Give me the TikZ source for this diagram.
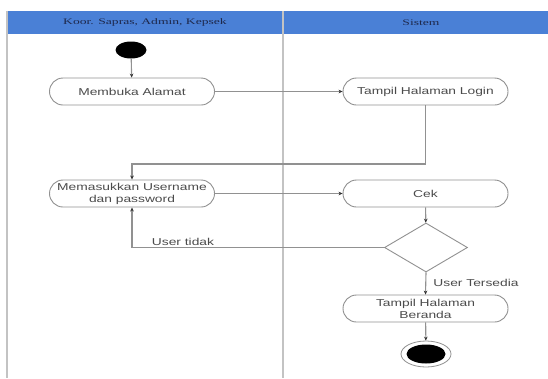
\documentclass[tikz,border=0pt]{standalone}
\usepackage{fontspec}
\setmainfont{Liberation Sans}
\newfontfamily\headfont{Liberation Serif}
\usetikzlibrary{shapes.geometric,arrows.meta}
\definecolor{laneblue}{RGB}{74,128,214}
\definecolor{lanegray}{RGB}{195,195,195}
\definecolor{edgegray}{RGB}{145,145,145}
\definecolor{txtgray}{RGB}{75,75,75}
\definecolor{headtxt}{RGB}{30,40,75}
\newcommand{\wtext}[1]{\scalebox{1.38}[1]{#1}}
\newcommand{\htext}[1]{\scalebox{1.6}[1]{#1}}
\tikzset{
  activity/.style={draw=edgegray, line width=0.9pt, fill=white, rounded corners=13.5pt,
    minimum width=165pt, minimum height=27pt, inner sep=1pt, align=center,
    text=txtgray, font=\fontsize{10}{12}\selectfont},
  flow/.style={draw=edgegray, line width=1.1pt,
    -{Stealth[length=4pt,width=3.6pt,color=black!80]}},
  guard/.style={text=txtgray, font=\fontsize{10}{11}\selectfont, inner sep=1pt},
  lanehead/.style={text=headtxt, font=\headfont\fontsize{8.5}{10}\selectfont}
}
\begin{document}
\begin{tikzpicture}[x=1pt,y=-1pt]
\useasboundingbox (0,0) rectangle (548,378);
\fill[white] (0,0) rectangle (548,378);
% swimlane header and lane borders
\fill[laneblue] (7,11) rectangle (548,34);
\draw[lanegray, line width=1.4pt] (7,11) -- (7,378);
\draw[lanegray, line width=1.4pt] (283,11) -- (283,378);
\node[lanehead] (laneA) at (145,22.5) {\htext{Koor. Sapras, Admin, Kepsek}};
\node[lanehead] (laneB) at (421,22.5) {\htext{Sistem}};
% start and end states
\node[ellipse, fill=black, minimum width=31pt, minimum height=17pt, inner sep=0pt] (start) at (131,50) {};
\node[ellipse, draw=edgegray, line width=0.8pt, fill=white, minimum width=50pt, minimum height=26pt, inner sep=0pt] (stop) at (426,354) {};
\fill[black] (stop.center) ellipse [x radius=19.5pt, y radius=9.5pt];
% activities
\node[activity] (membuka) at (132,91.5) {\wtext{Membuka Alamat}};
\node[activity] (login) at (425.5,91.5) {\wtext{Tampil Halaman Login}};
\node[activity] (masuk) at (132,193.5) {\wtext{Memasukkan Username}\\\wtext{dan password}};
\node[activity] (cek) at (425.5,193.5) {\wtext{Cek}};
\node[diamond, draw=edgegray, line width=0.9pt, fill=white, minimum width=83pt, minimum height=49pt, inner sep=0pt] (dec) at (426,247.5) {};
\node[activity] (beranda) at (425.5,308.5) {\wtext{Tampil Halaman}\\\wtext{Beranda}};
% bends of the login return path
\coordinate (bendA) at (425.5,164);
\coordinate (bendB) at (132,164);
% control flow
\draw[flow] (start) -- (membuka);
\draw[flow] (membuka) -- (login);
\draw[flow] (login.south) -- (bendA) -- (bendB) -- (masuk.north);
\draw[flow] (masuk) -- (cek);
\draw[flow] (cek) -- (dec);
\draw[flow] (dec.west) -| (masuk.south);
\draw[flow] (dec.south) -- (beranda.north);
\draw[flow] (beranda) -- (stop);
% guards
\node[guard] (gNo) at (183,242) {\wtext{User tidak}};
\node[guard] (gYes) at (476,283) {\wtext{User Tersedia}};
\end{tikzpicture}
\end{document}
